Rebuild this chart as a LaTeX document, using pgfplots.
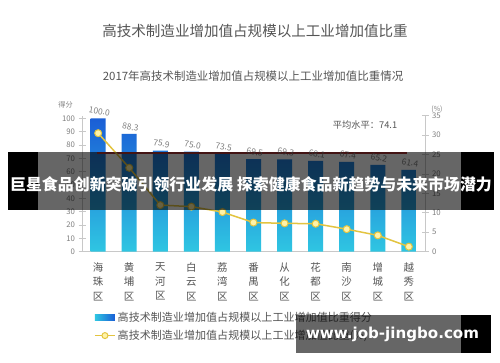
\documentclass[border=0pt]{standalone}
\usepackage{pgfplots}
\pgfplotsset{compat=1.18}
\usepackage{graphicx}
\usepackage{fontspec}
\setmainfont{Noto Sans CJK SC}
\newfontfamily\wmfont{DejaVu Sans}
\definecolor{txt}{HTML}{555555}
\definecolor{tickc}{HTML}{808080}
\definecolor{axisc}{HTML}{C8C8C8}
\definecolor{bartop}{HTML}{1A5ED6}
\definecolor{barbot}{HTML}{2FC6E2}
\definecolor{linec}{HTML}{E3C440}
\definecolor{markf}{HTML}{FFF3A8}
\definecolor{avg}{HTML}{A83232}
\begin{document}
\begin{tikzpicture}[x=1bp,y=1bp]
\path[use as bounding box, fill=white] (0,0) rectangle (500,362);
\node[text=txt, font=\fontsize{14.6}{16}\selectfont] at (255,331) {高技术制造业增加值占规模以上工业增加值比重};
\node[text=txt, font=\fontsize{11.5}{13}\selectfont] at (253,286) {2017年高技术制造业增加值占规模以上工业增加值比重情况};
\node[text=tickc, font=\fontsize{7.2}{9}\selectfont] at (65.5,257.5) {得分};
\node[text=tickc, font=\fontsize{7}{8}\selectfont] at (437,253) {(\%)};
\node[text=txt, font=\fontsize{9.3}{11}\selectfont] at (365,237) {平均水平：74.1};

\begin{axis}[at={(82bp,110.3bp)}, anchor=south west, scale only axis,
  width=343bp, height=136bp,
  xmin=-0.52, xmax=10.52, ymin=0, ymax=102,
  axis y line*=left, axis x line*=bottom,
  axis line style={draw=axisc, line width=0.8bp, -},
  ytick={0,10,...,100}, tick align=center, major tick length=7bp,
  y tick style={draw=axisc, line width=0.8bp},
  xtick={0,...,10}, major x tick style={draw=none},
  xticklabels={{海\\珠\\区},{黄\\埔\\区},{天\\河\\区},{白\\云\\区},{荔\\湾\\区},{番\\禺\\区},{从\\化\\区},{花\\都\\区},{南\\沙\\区},{增\\城\\区},{越\\秀\\区}},
  xticklabel style={align=center, text=txt, font=\fontsize{10.5}{14.5}\selectfont, yshift=-4bp},
  yticklabel style={text=tickc, font=\fontsize{7.8}{9}\selectfont},
  /pgf/number format/assume math mode=true,
  legend style={at={(axis description cs:0.035,-0.43)}, anchor=north west, draw=none, fill=none,
    font=\fontsize{11.1}{13}\selectfont, text=txt, row sep=3bp, inner sep=0pt},
  legend cell align=left,
]
\addplot[ybar, bar width=15bp, draw=none, top color=bartop, bottom color=barbot,
  nodes near coords={\pgfmathprintnumber[fixed,zerofill,precision=1]{\pgfplotspointmeta}},
  every node near coord/.append style={rotate=-10, text=tickc, font=\fontsize{8.5}{10}\selectfont, anchor=south, yshift=0.5bp},
  legend image code/.code={\fill[left color=barbot, right color=bartop] (0bp,-3bp) rectangle (20bp,3bp);}]
coordinates {(0,100.0) (1,88.3) (2,75.9) (3,75.0) (4,73.5) (5,69.5) (6,69.3) (7,68.1) (8,67.4) (9,65.2) (10,61.4)};
\addlegendentry{高技术制造业增加值占规模以上工业增加值比重得分}
\addlegendimage{legend image code/.code={\draw[linec, line width=1.5bp] (0bp,0bp) -- (20bp,0bp); \draw[linec, fill=markf, line width=1bp] (10bp,0bp) circle (3bp);}}
\addlegendentry{高技术制造业增加值占规模以上工业增加值比重(\%)}
\addplot[avg, line width=1.2bp, forget plot] coordinates {(-0.04,74.1) (9.93,74.1)};
\end{axis}

\begin{axis}[at={(82bp,110.3bp)}, anchor=south west, scale only axis,
  width=343bp, height=136bp,
  xmin=-0.52, xmax=10.52, ymin=0, ymax=35,
  axis y line*=right, axis x line=none,
  axis line style={draw=axisc, line width=0.8bp, -},
  ytick={0,5,...,35}, tick align=center, major tick length=7bp,
  y tick style={draw=axisc, line width=0.8bp},
  yticklabel style={text=tickc, font=\fontsize{7.8}{9}\selectfont},
  /pgf/number format/assume math mode=true,
]
\addplot[linec, line width=1.5bp, mark=*, mark size=3.5bp, mark options={fill=markf, draw=linec, line width=1bp}]
coordinates {(0,30.5) (1,21.6) (2,12.0) (3,11.6) (4,10.2) (5,7.5) (6,7.3) (7,7.2) (8,5.8) (9,4.2) (10,1.3)};
\end{axis}

% overlay banner
\fill[black, opacity=0.6] (38,152) rectangle (461,210.3);
\fill[black] (8,152) rectangle (38,210.3);
\fill[black] (461,152) rectangle (494,210.3);
\node[text=white, font=\bfseries\fontsize{16}{18}\selectfont] at (251,178) {巨星食品创新突破引领行业发展 探索健康食品新趋势与未来市场潜力};
% watermark
\fill[black, opacity=0.6] (296,9) rectangle (461,47);
\fill[black] (461,9) rectangle (491,47);
\node[text=white, inner sep=0pt] at (392.5,28) {\resizebox{173bp}{!}{\wmfont\bfseries www.job-jingbo.com}};
\end{tikzpicture}
\end{document}
